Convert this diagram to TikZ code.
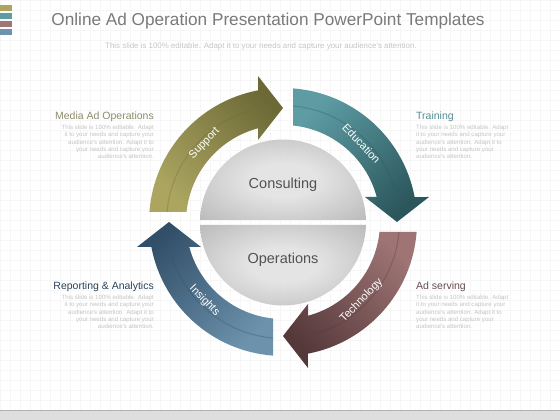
\documentclass[tikz,border=0pt]{standalone}
\usepackage{fontspec}
\setmainfont{Liberation Sans}
\definecolor{sphin}{HTML}{E4E4E4}
\definecolor{sphout}{HTML}{A9A9A9}
\definecolor{olL}{HTML}{ABA560}
\definecolor{olD}{HTML}{6C6937}
\definecolor{teL}{HTML}{5E9CA4}
\definecolor{teD}{HTML}{2B565C}
\definecolor{maL}{HTML}{9E7474}
\definecolor{maD}{HTML}{55383A}
\definecolor{blL}{HTML}{6C92AC}
\definecolor{blD}{HTML}{324F69}
\definecolor{titlecol}{HTML}{7A7A7A}
\definecolor{subcol}{HTML}{C6C6C6}
\definecolor{bodycol}{HTML}{C4C4C4}
\definecolor{gridcol}{HTML}{F6F6F6}
\pgfdeclareradialshading{sph}{\pgfpoint{0bp}{0bp}}{color(0bp)=(sphin); color(10bp)=(sphin); color(45bp)=(sphout); color(50bp)=(sphout)}
\tikzset{
  arrowshape/.pic={
    \path[pic actions] (10,96.5) -- (10,133.6) arc[start angle=85.72, end angle=10.75, radius=134]
      -- (146,25) -- (114,0) -- (82,25) -- (93.72,25)
      arc[start angle=14.93, end angle=84.08, radius=97] -- cycle;
  },
  ringlbl/.style={text=white, font=\fontsize{11}{13}\selectfont},
  sidehead/.style={font=\fontsize{10.5}{12}\selectfont},
  sidebody/.style={text=bodycol, font=\fontsize{6.1}{7.3}\selectfont, inner sep=0pt},
  centertxt/.style={text=black!68, font=\fontsize{14.5}{16}\selectfont},
  stripe/.style={opacity=0.3, line width=1.1}
}
\begin{document}
\begin{tikzpicture}[x=1pt,y=1pt]
\useasboundingbox (0,0) rectangle (560,420);
\fill[white] (0,0) rectangle (560,420);
\draw[gridcol, line width=0.35, step=10] (0,0) grid (560,420);
% bottom band
\fill[black!13] (0,0) rectangle (560,9);
\draw[black!30, line width=1] (0,9) -- (560,9);
% top-left bars
\fill[olL] (0,409) rectangle (12,415);
\fill[teL] (0,401) rectangle (12,407);
\fill[maL] (0,393) rectangle (12,399);
\fill[blL] (0,385) rectangle (12,391);
% title
\node[text=titlecol, font=\fontsize{17.2}{20}\selectfont] (title) at (268,399) {Online Ad Operation Presentation PowerPoint Templates};
\node[text=subcol, font=\fontsize{7.9}{9}\selectfont] (sub) at (261,374) {This slide is 100\% editable.  Adapt it to your needs and capture your audience's attention.};
% arrows
\begin{scope}[shift={(283,198)}]
  \pic[rotate=90, top color=olL, bottom color=olD, shading angle=135] {arrowshape};
  \pic[rotate=0, top color=teL, bottom color=teD, shading angle=45] {arrowshape};
  \pic[rotate=-90, top color=maL, bottom color=maD, shading angle=-45] {arrowshape};
  \pic[rotate=180, top color=blL, bottom color=blD, shading angle=-135] {arrowshape};
  \draw[olD, stripe] (-116,10) arc[start angle=175, end angle=106, radius=116.4];
  \draw[teD, stripe] (10,116) arc[start angle=85, end angle=16, radius=116.4];
  \draw[maD, stripe] (116,-10) arc[start angle=-5, end angle=-74, radius=116.4];
  \draw[blD, stripe] (-10,-116) arc[start angle=-95, end angle=-164, radius=116.4];
  \node[ringlbl, rotate=46] (lsup) at (135:111) {Support};
  \node[ringlbl, rotate=-46] (ledu) at (45:111) {Education};
  \node[ringlbl, rotate=46] (ltec) at (-45:111) {Technology};
  \node[ringlbl, rotate=-46] (lins) at (-135:111) {Insights};
  % sphere
  \shade[shading=sph] (0,-0.5) ++(-82.96,2.5) arc[start angle=178.27, end angle=1.73, radius=83] -- cycle;
  \shade[shading=sph] (0,-0.5) ++(82.96,-2.5) arc[start angle=-1.73, end angle=-178.27, radius=83] -- cycle;
  \node[centertxt] (cons) at (0,37) {Consulting};
  \node[centertxt] (oper) at (0,-38) {Operations};
\end{scope}
% side texts
\node[sidehead, text=olD!85!black!70, anchor=east, inner sep=0pt] (h1) at (154,303) {Media Ad Operations};
\node[sidebody, anchor=north east, align=right] (b1) at (154,295) {This slide is 100\% editable.  Adapt\\it to your needs and capture your\\audience's attention.  Adapt it to\\your needs and capture your\\audience's attention.};
\node[sidehead, text=teL!90!black, anchor=west, inner sep=0pt] (h2) at (416,303) {Training};
\node[sidebody, anchor=north west, align=left] (b2) at (416,295) {This slide is 100\% editable.  Adapt\\it to your needs and capture your\\audience's attention.  Adapt it to\\your needs and capture your\\audience's attention.};
\node[sidehead, text=blD!85!black, anchor=east, inner sep=0pt] (h3) at (154,133) {Reporting \& Analytics};
\node[sidebody, anchor=north east, align=right] (b3) at (154,125) {This slide is 100\% editable.  Adapt\\it to your needs and capture your\\audience's attention.  Adapt it to\\your needs and capture your\\audience's attention.};
\node[sidehead, text=maD!90!white, anchor=west, inner sep=0pt] (h4) at (416,133) {Ad serving};
\node[sidebody, anchor=north west, align=left] (b4) at (416,125) {This slide is 100\% editable.  Adapt\\it to your needs and capture your\\audience's attention.  Adapt it to\\your needs and capture your\\audience's attention.};
\end{tikzpicture}
\end{document}
